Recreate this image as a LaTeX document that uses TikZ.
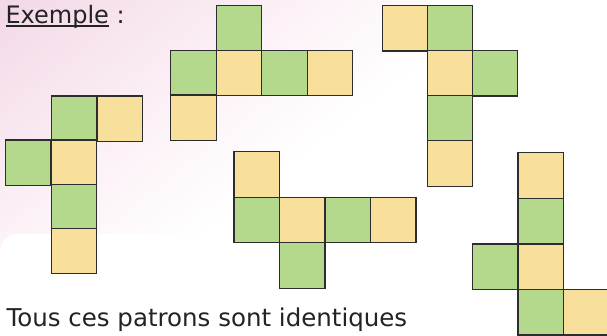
\documentclass[tikz,border=0pt]{standalone}
\usepackage{fontspec}
\setmainfont{DejaVu Sans}
\definecolor{cubegreen}{RGB}{180,216,140}
\definecolor{cubeyellow}{RGB}{248,224,156}
\definecolor{edgegray}{RGB}{45,45,45}
\definecolor{inkgray}{RGB}{35,35,35}
\definecolor{pinkA}{RGB}{238,204,224}
\definecolor{pinkB}{RGB}{245,222,235}
\definecolor{pinkC}{RGB}{252,242,247}
\pgfdeclareverticalshading{pinkfade}{100bp}{%
  color(0bp)=(white); color(38bp)=(white); color(56bp)=(pinkC);
  color(78bp)=(pinkB); color(100bp)=(pinkA)}
\begin{document}
\begin{tikzpicture}[x=1pt,y=-1pt,
  cell/.style={draw=edgegray, line width=1.2pt, inner sep=0pt, outer sep=0pt,
    minimum width=45.5pt, minimum height=45.5pt},
  gsq/.style={cell, fill=cubegreen},
  ysq/.style={cell, fill=cubeyellow},
  label/.style={inner sep=0pt, outer sep=0pt, text=inkgray, font=\fontsize{24}{28}\selectfont}
]

\useasboundingbox (0,0) rectangle (607,336);

% soft pink corner behind the first nets
\shade[shading=pinkfade, shading angle=38]
  (0,0) -- (430,0) -- (430,234) -- (18,234) arc[start angle=270, end angle=180, radius=18] -- cycle;

% title
\node[label, anchor=base west] (ex) at (5.5,24) {Exemple};
\node[label, anchor=base west] (colon) at ([xshift=7.6pt]ex.base east) {:};
\draw[inkgray, line width=1.3pt] ([yshift=-2pt]ex.base west) -- ([yshift=-2pt]ex.base east);

% net 1
\begin{scope}[every node/.append style={minimum width=45.8pt, minimum height=44.1pt}]
\node[gsq] (a1) at (74.0,118.75) {};
\node[ysq] (a2) at (119.8,118.75) {};
\node[gsq] (a3) at (28.2,162.85) {};
\node[ysq] (a4) at (74.0,162.85) {};
\node[gsq] (a5) at (74.0,206.95) {};
\node[ysq] (a6) at (74.0,251.05) {};
\end{scope}

% net 2
\begin{scope}[every node/.append style={minimum height=44.8pt}]
\node[gsq] (b1) at (238.95,28.1) {};
\node[gsq] (b2) at (193.45,72.9) {};
\node[ysq] (b3) at (238.95,72.9) {};
\node[gsq] (b4) at (284.45,72.9) {};
\node[ysq] (b5) at (329.95,72.9) {};
\node[ysq] (b6) at (193.45,117.7) {};
\end{scope}

% net 3
\begin{scope}[every node/.append style={minimum width=45.1pt, minimum height=45.1pt}]
\node[ysq] (c1) at (404.85,28.25) {};
\node[gsq] (c2) at (449.95,28.25) {};
\node[ysq] (c3) at (449.95,73.35) {};
\node[gsq] (c4) at (495.05,73.35) {};
\node[gsq] (c5) at (449.95,118.45) {};
\node[ysq] (c6) at (449.95,163.55) {};
\end{scope}

% net 4
\node[ysq] (d1) at (256.75,174.45) {};
\node[gsq] (d2) at (256.75,219.95) {};
\node[ysq] (d3) at (302.25,219.95) {};
\node[gsq] (d4) at (347.75,219.95) {};
\node[ysq] (d5) at (393.25,219.95) {};
\node[gsq] (d6) at (302.25,265.45) {};

% net 5
\begin{scope}[every node/.append style={minimum width=45.3pt, minimum height=45.6pt}]
\node[ysq] (e1) at (540.65,175.5) {};
\node[gsq] (e2) at (540.65,221.1) {};
\node[gsq] (e3) at (495.35,266.7) {};
\node[ysq] (e4) at (540.65,266.7) {};
\node[gsq] (e5) at (540.65,312.3) {};
\node[ysq] (e6) at (585.95,312.3) {};
\end{scope}

% caption
\node[label, anchor=base west, font=\fontsize{24.5}{28}\selectfont] (caption) at (6.5,326) {Tous ces patrons sont identiques};
\end{tikzpicture}
\end{document}
